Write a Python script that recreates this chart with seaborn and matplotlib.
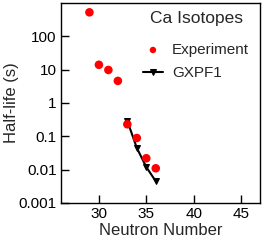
import matplotlib
matplotlib.use("Agg")
import matplotlib.pyplot as plt
import seaborn as sns
import pandas as pd
from matplotlib.ticker import FixedLocator, NullLocator, FixedFormatter

sns.set_style("white")
plt.rcParams['font.family'] = ['Liberation Sans', 'DejaVu Sans']

exp_n = [29, 30, 31, 32, 33, 34, 35, 36]
exp_t = [525, 14, 9.8, 4.6, 0.23, 0.089, 0.022, 0.011]
gx_n = [33, 34, 35, 36]
gx_t = [0.29, 0.045, 0.012, 0.0045]
y_ticks = [0.001, 0.01, 0.1, 1, 10, 100]
y_labels = ["0.001", "0.01", "0.1", "1", "10", "100"]
x_ticks = [30, 35, 40, 45]

exp_df = pd.DataFrame({"N": exp_n, "T": exp_t})
gx_df = pd.DataFrame({"N": gx_n, "T": gx_t})

fig = plt.figure(figsize=(2.64, 2.43), dpi=100)
ax = fig.add_axes([61/264, 40/243, 199/264, 200/243])

sns.scatterplot(data=exp_df, x="N", y="T", ax=ax, color="#ff0000", s=38,
                edgecolor="none", label="Experiment", zorder=3)
sns.lineplot(data=gx_df, x="N", y="T", ax=ax, color="black", lw=1.5,
             marker="v", markersize=5, markeredgecolor="black", label="GXPF1", zorder=2)

ax.set_yscale("log")
ax.set_xlim(26, 47)
ax.set_ylim(0.001, 1000)
ax.yaxis.set_major_locator(FixedLocator(y_ticks))
ax.yaxis.set_major_formatter(FixedFormatter(y_labels))
ax.yaxis.set_minor_locator(NullLocator())
ax.xaxis.set_major_locator(FixedLocator(x_ticks))
ax.tick_params(direction="in", length=6, width=1, labelsize=11, pad=3,
               left=True, bottom=True, colors="black")
for s in ax.spines.values():
    s.set_color("black")
    s.set_linewidth(1)
ax.set_xlabel("Neutron Number", fontsize=12, labelpad=1)
ax.set_ylabel("Half-life (s)", fontsize=12, labelpad=0)

ax.text(150/264, 1 - 18/243, "Ca Isotopes", transform=fig.transFigure,
        fontsize=12.5, ha="left", va="center")
leg = ax.legend(loc="upper left", bbox_to_anchor=(143/264, 1 - 43/243),
                bbox_transform=fig.transFigure, frameon=False, fontsize=11,
                markerscale=0.75, handlelength=1.3, handletextpad=0.6,
                labelspacing=0.6, borderaxespad=0, borderpad=0)

fig.savefig("out.png", dpi=100)
